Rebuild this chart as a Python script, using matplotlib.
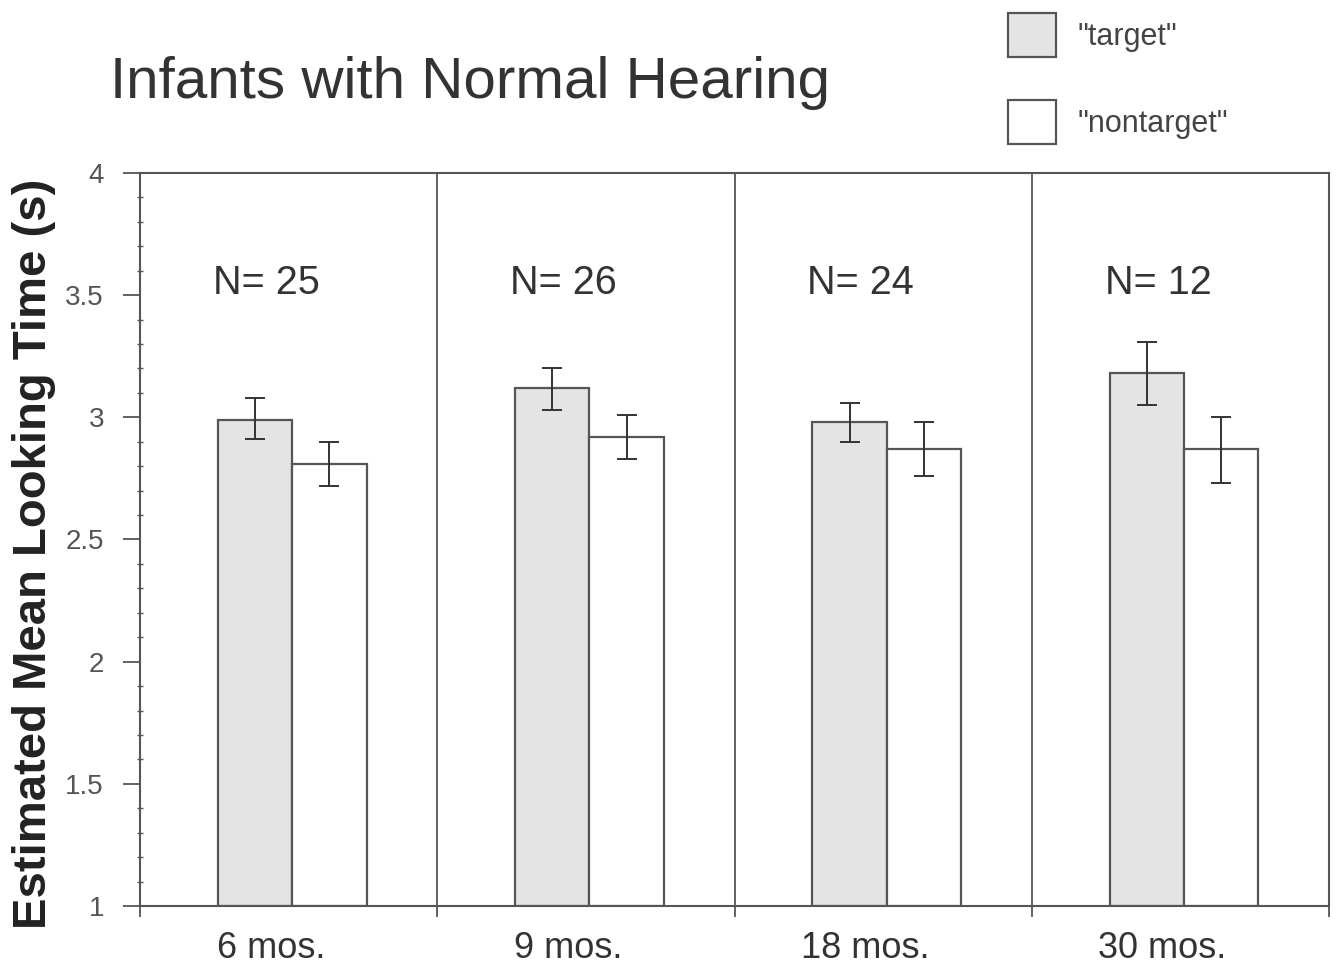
import matplotlib
matplotlib.use('Agg')
import matplotlib.pyplot as plt
import numpy as np

ages = ['6 mos.', '9 mos.', '18 mos.', '30 mos.']
n_labels = ['N= 25', 'N= 26', 'N= 24', 'N= 12']
target = [2.99, 3.12, 2.98, 3.18]
target_lo = [2.91, 3.03, 2.90, 3.05]
target_hi = [3.08, 3.20, 3.06, 3.31]
nontarget = [2.81, 2.92, 2.87, 2.87]
nontarget_lo = [2.72, 2.83, 2.76, 2.73]
nontarget_hi = [2.90, 3.01, 2.98, 3.00]

plt.rcParams['font.family'] = ['Liberation Sans', 'DejaVu Sans']
edge = '#555555'

fig = plt.figure(figsize=(13.4, 9.67), dpi=100)
ax = fig.add_axes([0.1045, 0.0631, 0.8873, 0.758])

x = np.arange(len(ages))
w = 0.25
xc = x + 0.012  # bar pairs sit a touch right of panel centre
t_err = [np.subtract(target, target_lo), np.subtract(target_hi, target)]
n_err = [np.subtract(nontarget, nontarget_lo), np.subtract(nontarget_hi, nontarget)]

ax.bar(xc - w / 2, np.subtract(target, 1), w, bottom=1, color='#e4e4e4',
       edgecolor=edge, linewidth=1.6, label='"target"')
ax.bar(xc + w / 2, np.subtract(nontarget, 1), w, bottom=1, color='white',
       edgecolor=edge, linewidth=1.6, label='"nontarget"')
ax.errorbar(xc - w / 2, target, yerr=t_err, fmt='none', ecolor='#333333',
            elinewidth=1.4, capsize=7, capthick=1.4)
ax.errorbar(xc + w / 2, nontarget, yerr=n_err, fmt='none', ecolor='#333333',
            elinewidth=1.4, capsize=7, capthick=1.4)

# panel dividers
for d in x[:-1] + 0.5:
    ax.axvline(d, color=edge, linewidth=1.3)

for xi, lab in zip(x, n_labels):
    ax.text(xi - 0.075, 3.55, lab, ha='center', va='center', fontsize=28.5,
            color='#333333')

ax.set_xlim(-0.5, 3.5)
ax.set_ylim(1, 4)
ax.set_yticks([1, 1.5, 2, 2.5, 3, 3.5, 4])
ax.set_yticklabels(['1', '1.5', '2', '2.5', '3', '3.5', '4'])
ax.set_yticks(np.arange(1, 4.01, 0.1), minor=True)
ax.set_xticks(x - 0.06)
ax.set_xticklabels(ages)
ax.set_xticks(np.arange(-0.5, 3.6, 1), minor=True)
ax.tick_params(axis='x', which='major', length=0, labelsize=26,
               labelcolor='#333333', pad=18)
ax.tick_params(axis='x', which='minor', length=8, color=edge, width=1.3)
ax.tick_params(axis='y', which='major', length=12, color=edge, width=1.3,
               labelsize=20, labelcolor='#555555', pad=14)
ax.tick_params(axis='y', which='minor', length=5, direction='inout',
               color=edge, width=1)
for s in ax.spines.values():
    s.set_color(edge)
    s.set_linewidth(1.5)

ax.set_ylabel('Estimated Mean Looking Time (s)', fontsize=34,
              fontweight='bold', color='#222222')
ax.yaxis.set_label_coords(-0.071, 0.48)
fig.text(0.082, 0.914, 'Infants with Normal Hearing', fontsize=42,
         color='#333333', va='center', ha='left')

ax.legend(loc='upper left', bbox_to_anchor=(0.732, 1.015),
          bbox_transform=fig.transFigure, frameon=False, fontsize=22,
          handlelength=1.57, handleheight=1.85, labelspacing=1.4,
          handletextpad=0.7, labelcolor='#444444')

plt.savefig('out.png', dpi=100)
